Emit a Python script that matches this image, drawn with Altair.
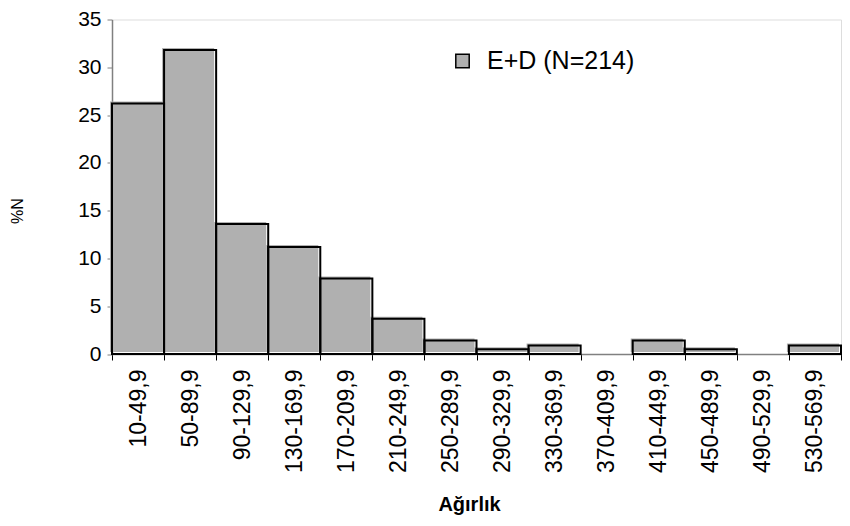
import altair as alt
import pandas as pd

categories = ["10-49,9", "50-89,9", "90-129,9", "130-169,9", "170-209,9", "210-249,9",
              "250-289,9", "290-329,9", "330-369,9", "370-409,9", "410-449,9", "450-489,9",
              "490-529,9", "530-569,9"]
values = [26.2, 31.8, 13.6, 11.2, 7.9, 3.7, 1.4, 0.5, 0.9, 0.0, 1.4, 0.5, 0.0, 0.9]
series = ["E+D (N=214)"] * len(categories)

df = pd.DataFrame({"cat": categories, "v": values, "s": series})

FONT = "Liberation Sans"

x = alt.X("cat:N", sort=categories, title="Ağırlık",
          scale=alt.Scale(paddingInner=0, paddingOuter=0),
          axis=alt.Axis(labelAngle=-90, labelAlign="right", labelBaseline="middle",
                        tickBand="extent", labelFontSize=23, labelColor="black",
                        labelFont=FONT, labelPadding=9, tickSize=6, tickColor="black",
                        domainColor="#808080", domainWidth=1.5,
                        titleFont=FONT, titleFontSize=20, titleFontWeight="bold",
                        titleColor="black", titlePadding=22, titleX=357, grid=False))
y = alt.Y("v:Q", title="%N",
          scale=alt.Scale(domain=[0, 35], nice=False),
          axis=alt.Axis(values=[0, 5, 10, 15, 20, 25, 30, 35], labelFontSize=21,
                        labelFont=FONT, labelColor="black", labelPadding=6, tickSize=5,
                        tickColor="#808080", domainColor="#808080", domainWidth=1.5,
                        titleFont=FONT, titleFontSize=16, titleFontWeight="normal",
                        titleColor="black", titlePadding=52, titleY=191, grid=False))

fill = alt.Chart(df).mark_bar(xOffset=-2, yOffset=-2, stroke=None).encode(
    x=x, y=y,
    color=alt.Color("s:N", scale=alt.Scale(range=["#b0b0b0"]),
                    legend=alt.Legend(title=None, orient="none", legendX=338, legendY=29,
                                      symbolType="square", symbolSize=180,
                                      symbolStrokeColor="black", symbolStrokeWidth=1.5,
                                      symbolFillColor="#b0b0b0",
                                      labelFont=FONT, labelFontSize=25, labelColor="black",
                                      labelOffset=12, padding=0))
)

outline = alt.Chart(df).transform_filter("datum.v > 0").mark_bar(
    fill=None, stroke="black", strokeWidth=2
).encode(x=x, y=y)

chart = alt.layer(fill, outline).properties(
    width=729, height=334.5,
    autosize=alt.AutoSizeParams(type="none"),
    padding={"left": 104, "top": 11.5, "right": 1, "bottom": 164},
).configure_view(stroke=None).configure(background="white")

chart.save("out.html", embed_options={"renderer": "svg", "actions": False})
